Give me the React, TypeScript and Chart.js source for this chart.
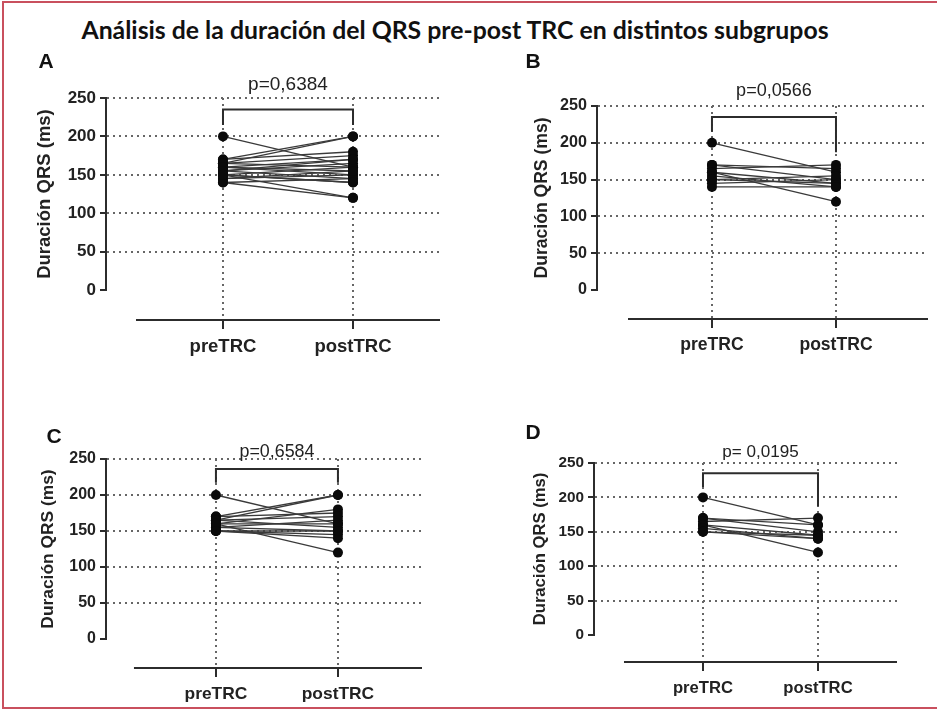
import React, { useEffect, useRef } from 'react';
import { Chart, registerables } from 'chart.js';

Chart.register(...registerables);

// ---------- data ----------
const MAIN_TITLE = 'Análisis de la duración del QRS pre-post TRC en distintos subgrupos';
const GROUPS = ['preTRC', 'postTRC'];
const Y_TICKS = [0, 50, 100, 150, 200, 250];
const Y_TITLE = 'Duración QRS (ms)';
const PANEL_LETTERS = ['A', 'B', 'C', 'D'];
const P_VALUES = ['p=0,6384', 'p=0,0566', 'p=0,6584', 'p= 0,0195'];

const A_PRE = [200, 170, 165, 170, 165, 160, 160, 155, 155, 150, 150, 150, 145, 145, 140, 140, 165, 160, 155, 150];
const A_POST = [160, 200, 200, 180, 175, 170, 150, 165, 145, 160, 120, 140, 155, 150, 120, 145, 160, 155, 170, 140];

const B_PRE = [200, 170, 170, 165, 160, 160, 155, 150, 145, 140, 150];
const B_POST = [160, 165, 150, 170, 120, 145, 140, 145, 150, 140, 155];

const C_PRE = [200, 170, 165, 160, 170, 165, 160, 155, 155, 150, 150, 165, 160, 150];
const C_POST = [160, 200, 200, 180, 175, 170, 120, 165, 150, 145, 140, 155, 160, 150];

const D_PRE = [200, 170, 170, 165, 160, 160, 155, 150, 150];
const D_POST = [160, 160, 150, 170, 120, 145, 140, 145, 140];

// bracket heights (value units): top, left leg end, right leg end
const BRACKET_TOP = [235, 235, 236, 235];
const BRACKET_LEFT = [215, 215, 217, 215];
const BRACKET_RIGHT = [215, 187, 217, 187];

const SERIES = [
  [A_PRE, A_POST],
  [B_PRE, B_POST],
  [C_PRE, C_POST],
  [D_PRE, D_POST],
];

// ---------- layout (positions / sizes) ----------
type Layout = {
  canvas: { left: number; top: number; width: number; height: number };
  area: { left: number; top: number; right: number; bottom: number };
  xMin: number; xMax: number; axisStart: number; yMin: number;
  titleDx: number; k: number; pGap: number;
  letter: { x: number; y: number };
};

const LAYOUT: Layout[] = [
  {
    canvas: { left: 10, top: 60, width: 445, height: 305 },
    area: { left: 107, top: 98, right: 440, bottom: 320 },
    xMin: -0.892, xMax: 1.669, axisStart: -0.669, yMin: -39,
    titleDx: 62, k: 1, pGap: 20, letter: { x: 46, y: 61 },
  },
  {
    canvas: { left: 490, top: 60, width: 445, height: 305 },
    area: { left: 598, top: 106, right: 928, bottom: 319 },
    xMin: -0.919, xMax: 1.742, axisStart: -0.677, yMin: -39.4,
    titleDx: 56, k: 0.95, pGap: 21, letter: { x: 533, y: 61 },
  },
  {
    canvas: { left: 10, top: 420, width: 445, height: 285 },
    area: { left: 107, top: 459, right: 422, bottom: 668 },
    xMin: -0.893, xMax: 1.689, axisStart: -0.672, yMin: -40.3,
    titleDx: 59, k: 0.94, pGap: 12, letter: { x: 54, y: 436 },
  },
  {
    canvas: { left: 490, top: 420, width: 445, height: 285 },
    area: { left: 595, top: 463, right: 897, bottom: 662 },
    xMin: -0.939, xMax: 1.687, axisStart: -0.687, yMin: -39.2,
    titleDx: 55, k: 0.9, pGap: 16, letter: { x: 533, y: 432 },
  },
];

const INK = '#222222';
const AXIS = '#2c2c2c';
const DOT_GRID = '#666666';
const FONT = '"Liberation Sans", Arial, sans-serif';

function Panel({ idx }: { idx: number }) {
  const ref = useRef<HTMLCanvasElement | null>(null);
  const L = LAYOUT[idx];

  useEffect(() => {
    if (!ref.current) return;
    const [pre, post] = SERIES[idx];
    const k = L.k;
    const padTop = L.area.top - L.canvas.top;
    const padRight = L.canvas.left + L.canvas.width - L.area.right;
    const yW = L.area.left - L.canvas.left;
    const xH = L.canvas.top + L.canvas.height - L.area.bottom;

    const pairDatasets = pre.map((v, i) => ({
      type: 'line' as const,
      data: [{ x: 0, y: v }, { x: 1, y: post[i] }],
      borderColor: '#3a3a3a',
      borderWidth: 1.3,
      pointRadius: 0,
      tension: 0,
      order: 1,
    }));

    const pointsDataset = {
      type: 'scatter' as const,
      data: [
        ...pre.map((v) => ({ x: 0, y: v })),
        ...post.map((v) => ({ x: 1, y: v })),
      ],
      pointRadius: 5,
      pointBackgroundColor: '#0a0a0a',
      pointBorderColor: '#0a0a0a',
      pointBorderWidth: 0,
      showLine: false,
      order: -1,
    };

    const bracketDataset = {
      type: 'line' as const,
      data: [
        { x: 0, y: BRACKET_LEFT[idx] },
        { x: 0, y: BRACKET_TOP[idx] },
        { x: 1, y: BRACKET_TOP[idx] },
        { x: 1, y: BRACKET_RIGHT[idx] },
      ],
      borderColor: AXIS,
      borderWidth: 2,
      pointRadius: 0,
      tension: 0,
      order: 0,
    };

    const overlay = {
      id: 'overlay' + idx,
      afterDraw(chart: any) {
        const { ctx, chartArea, scales } = chart;
        const x = scales.x;
        const y = scales.y;
        ctx.save();
        ctx.strokeStyle = AXIS;
        ctx.lineWidth = 2;
        // y axis line (0..250)
        ctx.beginPath();
        ctx.moveTo(chartArea.left - 1, y.getPixelForValue(250) - 1);
        ctx.lineTo(chartArea.left - 1, y.getPixelForValue(0) + 1);
        ctx.stroke();
        // x axis line
        ctx.beginPath();
        ctx.moveTo(x.getPixelForValue(L.axisStart), chartArea.bottom);
        ctx.lineTo(chartArea.right, chartArea.bottom);
        ctx.stroke();
        // p value
        ctx.fillStyle = INK;
        ctx.font = `${19 * k}px ${FONT}`;
        ctx.textAlign = 'center';
        ctx.textBaseline = 'alphabetic';
        const mid = (x.getPixelForValue(0) + x.getPixelForValue(1)) / 2;
        ctx.fillText(P_VALUES[idx], mid, y.getPixelForValue(BRACKET_TOP[idx]) - L.pGap);
        // y title
        ctx.translate(chartArea.left - L.titleDx, (y.getPixelForValue(0) + y.getPixelForValue(250)) / 2);
        ctx.rotate(-Math.PI / 2);
        ctx.font = `bold ${18.5 * k}px ${FONT}`;
        ctx.textBaseline = 'middle';
        ctx.fillText(Y_TITLE, 0, 0);
        ctx.restore();
      },
    };

    const chart = new Chart(ref.current, {
      type: 'scatter',
      data: { datasets: [pointsDataset, bracketDataset, ...pairDatasets] as any },
      options: {
        animation: false,
        responsive: false,
        maintainAspectRatio: false,
        layout: { padding: { top: padTop, right: padRight, left: 0, bottom: 0 } },
        plugins: {
          legend: { display: false },
          tooltip: { enabled: false },
          title: { display: false },
        },
        scales: {
          x: {
            type: 'linear',
            min: L.xMin,
            max: L.xMax,
            afterFit: (s: any) => { s.height = xH; },
            afterBuildTicks: (s: any) => { s.ticks = GROUPS.map((_, i) => ({ value: i })); },
            ticks: {
              callback: (v: any) => GROUPS[v as number] ?? '',
              font: { family: FONT, weight: 'bold', size: 18.5 * k },
              color: INK,
              padding: 7,
              maxRotation: 0,
              autoSkip: false,
            },
            grid: {
              color: DOT_GRID,
              lineWidth: 2,
              drawTicks: true,
              tickLength: 9,
              tickColor: AXIS,
              tickWidth: 2,
              tickBorderDash: [100, 0],
            },
            border: { display: false, dash: [2, 4] },
          },
          y: {
            type: 'linear',
            min: L.yMin,
            max: 250,
            afterFit: (s: any) => { s.width = yW; },
            afterBuildTicks: (s: any) => { s.ticks = Y_TICKS.map((v) => ({ value: v })); },
            ticks: {
              font: { family: FONT, weight: 'bold', size: 17 * k },
              color: INK,
              padding: 4,
            },
            grid: {
              color: (c: any) => (c.tick && c.tick.value === 0 ? 'rgba(0,0,0,0)' : DOT_GRID),
              lineWidth: 2,
              drawTicks: true,
              tickLength: 7,
              tickColor: AXIS,
              tickWidth: 2,
              tickBorderDash: [100, 0],
            },
            border: { display: false, dash: [2, 4] },
          },
        },
      } as any,
      plugins: [overlay],
    });
    return () => chart.destroy();
  }, [idx]);

  return (
    <>
      <canvas
        ref={ref}
        width={L.canvas.width}
        height={L.canvas.height}
        style={{
          position: 'absolute',
          left: L.canvas.left,
          top: L.canvas.top,
          width: L.canvas.width,
          height: L.canvas.height,
        }}
      />
      <div
        style={{
          position: 'absolute',
          left: L.letter.x - 20,
          width: 40,
          top: L.letter.y - 11,
          textAlign: 'center',
          font: `bold 21px ${FONT}`,
          lineHeight: '21px',
          color: '#111',
        }}
      >
        {PANEL_LETTERS[idx]}
      </div>
    </>
  );
}

export default function App() {
  return (
    <div
      style={{
        position: 'absolute',
        left: 0,
        top: 0,
        width: 937,
        height: 710,
        overflow: 'hidden',
        background: '#fff',
      }}
    >
      <div
        style={{
          position: 'absolute',
          left: 2,
          top: 1,
          width: 935,
          height: 708,
          boxSizing: 'border-box',
          borderTop: '2px solid #c9505e',
          borderLeft: '2px solid #c9505e',
          borderBottom: '2px solid #c9505e',
        }}
      />
      <div
        style={{
          position: 'absolute',
          left: 0,
          width: 910,
          top: 13,
          textAlign: 'center',
          fontFamily: 'Lato, sans-serif',
          fontWeight: 700,
          fontSize: 24.8,
          lineHeight: '34px',
          color: '#111',
        }}
      >
        {MAIN_TITLE}
      </div>
      {LAYOUT.map((_, i) => (
        <Panel key={i} idx={i} />
      ))}
    </div>
  );
}
